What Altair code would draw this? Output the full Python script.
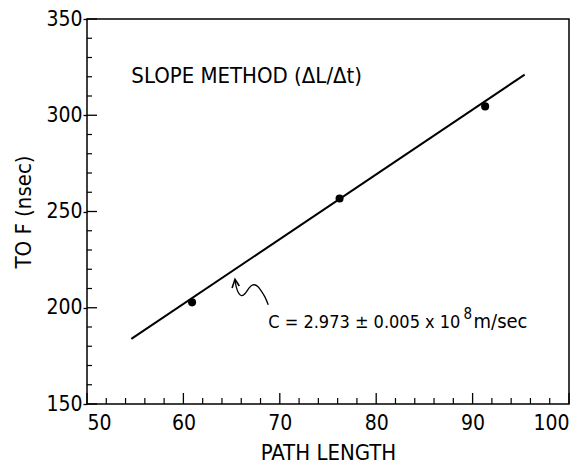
import altair as alt
import pandas as pd

# ---- data ----
path_length = [60.9, 76.2, 91.3]
tof = [202.8, 256.8, 304.6]

fit_x = [54.6, 95.4]
fit_y = [183.8, 321.1]

# wavy pointer line (hand-drawn arrow) toward the fit line
wave_x = [68.8, 68.5, 68.0, 67.6, 67.2, 66.8, 66.4, 66.0, 65.7, 65.45, 65.35]
wave_y = [201.5, 205.5, 209.5, 211.8, 212.2, 210.5, 207.0, 205.8, 207.5, 211.0, 214.5]
head_x = [65.05, 65.35, 65.8]
head_y = [210.3, 214.8, 211.3]

major_x = [50, 60, 70, 80, 90, 100]
minor_x = [v for v in range(52, 100, 2) if v % 10 != 0]
major_y = [150, 200, 250, 300, 350]
minor_y = [v for v in range(160, 350, 10) if v % 50 != 0]

W, H = 482, 385
FONT = "DejaVu Sans Condensed, DejaVu Sans, sans-serif"

xs = alt.Scale(domain=[50, 100], nice=False, zero=False)
ys = alt.Scale(domain=[150, 350], nice=False, zero=False)

pts = pd.DataFrame({"x": path_length, "y": tof})
fit = pd.DataFrame({"x": fit_x, "y": fit_y})
wave = pd.DataFrame({"x": wave_x, "y": wave_y, "o": list(range(len(wave_x)))})
head = pd.DataFrame({"x": head_x, "y": head_y, "o": list(range(len(head_x)))})

base_x = alt.X("x:Q", scale=xs, title="PATH LENGTH",
               axis=alt.Axis(values=major_x, format="d", tickSize=0, labelPadding=8,
                             domain=False, grid=False, titlePadding=9, titleFontSize=22))
base_y = alt.Y("y:Q", scale=ys, title="TO F (nsec)",
               axis=alt.Axis(values=major_y, format="d", tickSize=4, tickWidth=1.3,
                             tickColor="black", labelPadding=1, domain=False, grid=False,
                             titlePadding=10, titleFontSize=22))

line = alt.Chart(fit).mark_line(color="black", strokeWidth=2).encode(x=base_x, y=base_y)
dots = alt.Chart(pts).mark_circle(color="black", size=65, opacity=1).encode(
    x=alt.X("x:Q", scale=xs), y=alt.Y("y:Q", scale=ys))
wv = alt.Chart(wave).mark_line(color="black", strokeWidth=1.3, interpolate="basis").encode(
    x=alt.X("x:Q", scale=xs), y=alt.Y("y:Q", scale=ys), order="o:Q")
hd = alt.Chart(head).mark_line(color="black", strokeWidth=1.6).encode(
    x=alt.X("x:Q", scale=xs), y=alt.Y("y:Q", scale=ys), order="o:Q")

# inward ticks
tx_major = alt.Chart(pd.DataFrame({"x": major_x})).mark_rule(color="black", strokeWidth=1.3).encode(
    x=alt.X("x:Q", scale=xs), y=alt.value(H), y2=alt.value(H - 11))
tx_minor = alt.Chart(pd.DataFrame({"x": minor_x})).mark_rule(color="black", strokeWidth=1.2).encode(
    x=alt.X("x:Q", scale=xs), y=alt.value(H), y2=alt.value(H - 6))
ty_major = alt.Chart(pd.DataFrame({"y": major_y})).mark_rule(color="black", strokeWidth=1.3).encode(
    y=alt.Y("y:Q", scale=ys), x=alt.value(0), x2=alt.value(10))
ty_minor = alt.Chart(pd.DataFrame({"y": minor_y})).mark_rule(color="black", strokeWidth=1.2).encode(
    y=alt.Y("y:Q", scale=ys), x=alt.value(0), x2=alt.value(5))

t1 = alt.Chart(pd.DataFrame({"x": [54.6], "y": [320.5], "t": ["SLOPE METHOD (ΔL/Δt)"]})).mark_text(
    font=FONT, fontSize=22, align="left", baseline="middle", color="black").encode(
    x=alt.X("x:Q", scale=xs), y=alt.Y("y:Q", scale=ys), text="t:N")
t2 = alt.Chart(pd.DataFrame({"x": [68.8], "y": [189.5], "t": ["C = 2.973 ± 0.005 x 10"]})).mark_text(
    font=FONT, fontSize=18, align="left", baseline="alphabetic", color="black").encode(
    x=alt.X("x:Q", scale=xs), y=alt.Y("y:Q", scale=ys), text="t:N")
t3 = alt.Chart(pd.DataFrame({"x": [89.05], "y": [194.2], "t": ["8"]})).mark_text(
    font=FONT, fontSize=15, align="left", baseline="alphabetic", color="black").encode(
    x=alt.X("x:Q", scale=xs), y=alt.Y("y:Q", scale=ys), text="t:N")
t4 = alt.Chart(pd.DataFrame({"x": [90.1], "y": [189.5], "t": ["m/sec"]})).mark_text(
    font=FONT, fontSize=20, align="left", baseline="alphabetic", color="black").encode(
    x=alt.X("x:Q", scale=xs), y=alt.Y("y:Q", scale=ys), text="t:N")

chart = alt.layer(line, dots, wv, hd, tx_major, tx_minor, ty_major, ty_minor, t1, t2, t3, t4).properties(
    width=W, height=H,
    autosize=alt.AutoSizeParams(type="none"),
    padding={"left": 79, "top": 11, "right": 6, "bottom": 60},
    background="white",
).configure_view(stroke="black", strokeWidth=1.5).configure_axis(
    labelFont=FONT, titleFont=FONT, labelFontSize=21,
    titleFontWeight="normal", labelColor="black", titleColor="black",
)

chart.save("out.html", embed_options={"renderer": "svg", "actions": False})
